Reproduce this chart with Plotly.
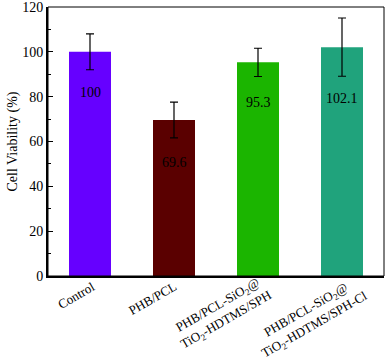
import plotly.graph_objects as go

CATEGORIES = ["Control", "PHB/PCL", "PHB/PCL-SiO2@TiO2-HDTMS/SPH", "PHB/PCL-SiO2@TiO2-HDTMS/SPH-Cl"]
TICK_TEXT = [
    "Control",
    "PHB/PCL",
    "PHB/PCL-SiO<sub>2</sub>@<br>TiO<sub>2</sub>-HDTMS/SPH",
    "PHB/PCL-SiO<sub>2</sub>@<br>TiO<sub>2</sub>-HDTMS/SPH-Cl",
]
VIABILITY = [100, 69.6, 95.3, 102.1]
ERRORS = [8, 8, 6.3, 13]
VALUE_LABELS = ["100", "69.6", "95.3", "102.1"]
COLORS = ["#6600FF", "#5A0000", "#1BB500", "#20A37C"]

FONT = "Liberation Serif, Times New Roman, serif"

# where the value text sits below the bar top (data units)
label_drop = [18, 19, 17.8, 23]
# centre offsets (px) of the rotated category labels from the tick
tick_dx = [-14, -22, -36, -32]
tick_dy = [-19, -22, -37, -42]

fig = go.Figure()
fig.add_trace(
    go.Bar(
        x=CATEGORIES,
        y=VIABILITY,
        width=0.5,
        marker=dict(color=COLORS, line=dict(width=0)),
        error_y=dict(
            type="data", array=ERRORS, visible=True,
            color="black", thickness=1.2, width=4,
        ),
        showlegend=False,
        hoverinfo="skip",
    )
)

# value labels sitting inside the bars
for cat, v, drop, txt in zip(CATEGORIES, VIABILITY, label_drop, VALUE_LABELS):
    fig.add_annotation(
        x=cat, y=v - drop, text=txt, showarrow=False,
        font=dict(family=FONT, size=14, color="black"),
    )

# rotated, centred category labels
for cat, txt, dx, dy in zip(CATEGORIES, TICK_TEXT, tick_dx, tick_dy):
    fig.add_annotation(
        x=cat, y=0, yref="paper", text=txt, showarrow=False,
        textangle=-30, align="center",
        xanchor="center", yanchor="middle", xshift=dx, yshift=dy,
        font=dict(family=FONT, size=13, color="black"),
    )

# y axis title
fig.add_annotation(
    x=0, y=0.5, xref="paper", yref="paper", text="Cell Viability (%)",
    showarrow=False, textangle=-90, xanchor="center", yanchor="middle",
    xshift=-36, font=dict(family=FONT, size=14, color="black"),
)

# thin frame on top/right
fig.add_shape(
    type="rect", xref="paper", yref="paper", x0=0, y0=0, x1=1, y1=1,
    line=dict(color="black", width=1),
)

fig.update_xaxes(
    range=[-0.5, 3.5],
    showticklabels=False,
    showline=True, linecolor="black", linewidth=2,
    ticks="",
    automargin=False,
)
fig.update_yaxes(
    range=[0, 120],
    dtick=20,
    showgrid=False,
    zeroline=False,
    showline=True, linecolor="black", linewidth=2,
    ticks="inside", ticklen=5, tickwidth=1, tickcolor="black",
    minor=dict(dtick=10, ticks="inside", ticklen=3, tickwidth=1, tickcolor="black"),
    tickfont=dict(family=FONT, size=14, color="black"),
    ticklabeloverflow="allow",
    automargin=False,
)
fig.update_layout(
    width=387, height=360,
    margin=dict(l=48, r=3, t=7, b=84),
    plot_bgcolor="white", paper_bgcolor="white",
    font=dict(family=FONT),
)
# drop the page's default body margin so the figure sits at the window corner
fig.write_html(
    "out.html",
    config={"displayModeBar": False},
    post_script="document.body.style.margin = '0';",
)
